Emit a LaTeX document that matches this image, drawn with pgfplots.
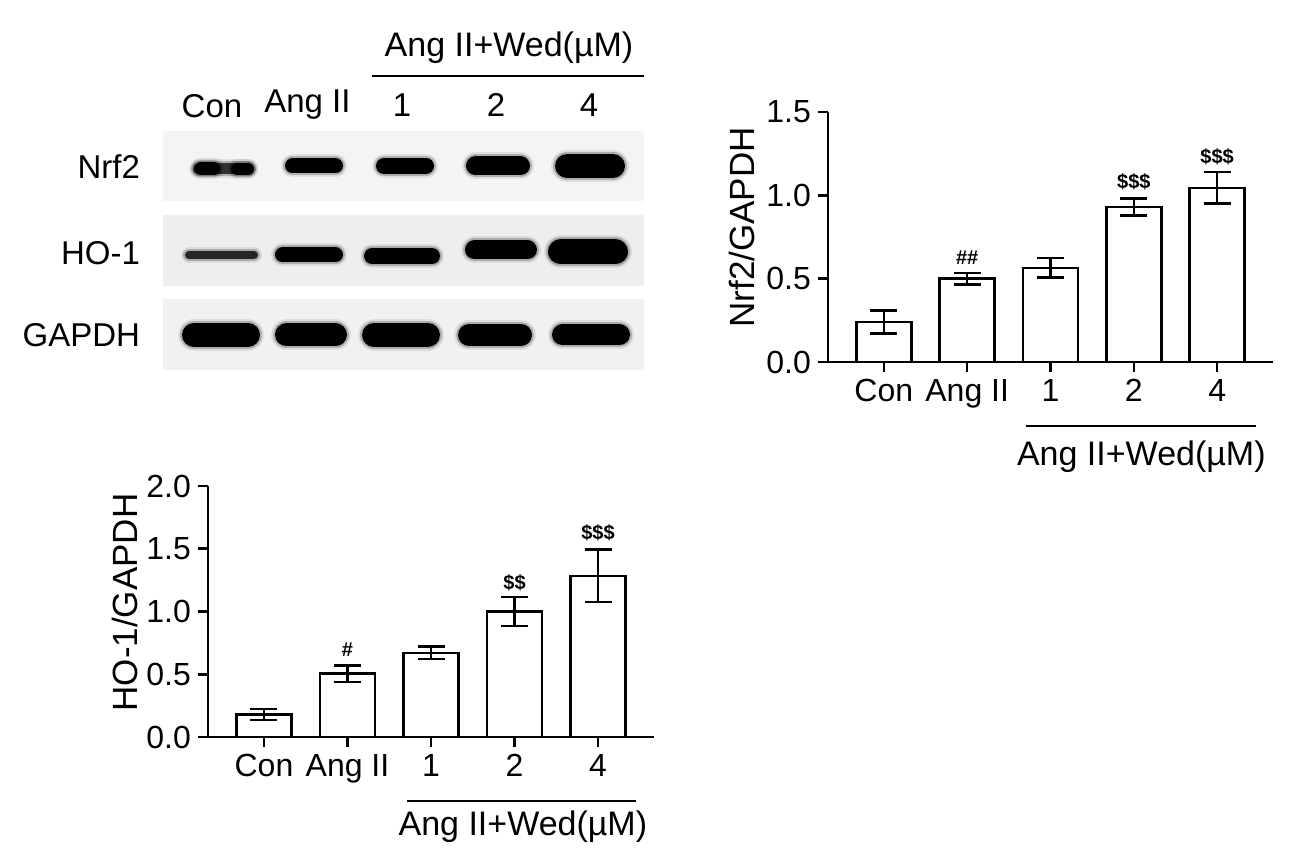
\documentclass[border=0pt]{standalone}
\usepackage{fontspec}
\setmainfont{Liberation Sans}
\usepackage{pgfplots}
\pgfplotsset{compat=1.18}

% one blot band: x from, x to, y, height (px of the 1303x862 canvas), colour
\newcommand{\band}[5]{%
  \addplot[black, opacity=0.08, line width=#4*0.5pt+4pt, line cap=round] coordinates {(#1,#3) (#2,#3)};
  \addplot[black, opacity=0.22, line width=#4*0.5pt+2pt, line cap=round] coordinates {(#1,#3) (#2,#3)};
  \addplot[#5, line width=#4*0.5pt, line cap=round] coordinates {(#1,#3) (#2,#3)};
}

\tikzset{sig/.style={font=\fontsize{10}{12}\selectfont\bfseries}}

\pgfplotsset{
  barchart/.style={
    scale only axis,
    xmin=-0.67, xmax=4.67, ymin=0,
    axis x line*=bottom, axis y line*=left,
    axis line style={line width=1.3pt},
    tick style={line width=1.3pt, black},
    tick align=outside, major tick length=5pt,
    xtick={0,...,4}, xticklabels={Con,Ang II,1,2,4},
    ticklabel style={font=\fontsize{16}{19}\selectfont},
    /pgf/number format/assume math mode=true,
    yticklabel style={/pgf/number format/.cd, fixed, fixed zerofill, precision=1},
    ylabel style={font=\fontsize{17.5}{20}\selectfont, anchor=center},
    ybar, bar width=27.5pt,
    clip=false,
  },
  bars/.style={
    fill=white, draw=black, line width=1.2pt,
    error bars/.cd, y dir=both, y explicit,
    error bar style={line width=1.2pt, black},
    error mark options={rotate=90, mark size=6.75pt, line width=1.2pt, black},
  },
}

\begin{document}
\begin{tikzpicture}
\useasboundingbox (0,0) rectangle (651.5pt,431pt);

% western blot, in canvas pixels
\begin{axis}[
  at={(0pt,0pt)}, anchor=south west,
  scale only axis, width=651.5pt, height=431pt,
  xmin=0, xmax=1303, ymin=0, ymax=862, y dir=reverse,
  hide axis, clip=false]
  \addplot[fill=gray!9, draw=none] coordinates {(163,131) (644,131) (644,201) (163,201)};
  \addplot[fill=gray!13, draw=none] coordinates {(163,215) (644,215) (644,286) (163,286)};
  \addplot[fill=gray!11, draw=none] coordinates {(163,299) (644,299) (644,370) (163,370)};
  % Nrf2
  \band{198.5}{248.5}{169}{11}{black!80}
  \band{201}{214}{169}{13}{black}
  \band{237}{248}{169}{12}{black}
  \band{292.5}{335.5}{166}{15}{black}
  \band{384}{426}{166}{16}{black}
  \band{475.5}{520.5}{166}{19}{black}
  \band{567}{613}{166}{24}{black}
  % HO-1
  \band{189}{254}{255}{8}{black!85}
  \band{282.5}{335.5}{255}{15}{black}
  \band{372}{432}{256}{16}{black}
  \band{474.5}{527.5}{250}{19}{black}
  \band{560.5}{615.5}{252}{25}{black}
  % GAPDH
  \band{194}{248}{335}{24}{black}
  \band{286.5}{335.5}{335}{23}{black}
  \band{374}{428}{335}{24}{black}
  \band{469}{521}{335}{22}{black}
  \band{562.5}{619.5}{335}{21}{black}

  \node[anchor=east, font=\fontsize{16.5}{19}\selectfont] at (axis cs:147,167) {Nrf2};
  \node[anchor=east, font=\fontsize{16.5}{19}\selectfont] at (axis cs:147,253) {HO-1};
  \node[anchor=east, font=\fontsize{16.5}{19}\selectfont] at (axis cs:147,335) {GAPDH};
  \node[anchor=base, font=\fontsize{16.5}{19}\selectfont] at (axis cs:212,118) {Con};
  \node[anchor=base, font=\fontsize{16.5}{19}\selectfont] at (axis cs:307.5,113) {Ang II};
  \node[anchor=base, font=\fontsize{16.5}{19}\selectfont] at (axis cs:402,117) {1};
  \node[anchor=base, font=\fontsize{16.5}{19}\selectfont] at (axis cs:496,117) {2};
  \node[anchor=base, font=\fontsize{16.5}{19}\selectfont] at (axis cs:589,117) {4};
  \draw[line width=1.3pt] (axis cs:372,76) -- (axis cs:644,76);
  \node[anchor=base, font=\fontsize{17}{20}\selectfont] at (axis cs:509,57) {Ang II+Wed(µM)};
\end{axis}

% Nrf2/GAPDH
\begin{axis}[barchart,
  at={(414pt,250pt)}, anchor=south west,
  width=222.5pt, height=125pt,
  ymax=1.5, ytick={0,0.5,1,1.5},
  ylabel={Nrf2/GAPDH},
  ylabel style={at={(axis description cs:-0.193,0.538)}}]
  \addplot[bars] coordinates {
    (0,0.24)  +- (0,0.07)
    (1,0.50)  +- (0,0.035)
    (2,0.565) +- (0,0.058)
    (3,0.93)  +- (0,0.05)
    (4,1.045) +- (0,0.095)
  };
  \node[sig] at (axis cs:1,0.624) {\#\#};
  \node[sig] at (axis cs:3,1.08) {\$\$\$};
  \node[sig] at (axis cs:4,1.23) {\$\$\$};
  \draw[line width=1.3pt] (axis cs:1.71,-0.384) -- (axis cs:4.46,-0.384);
  \node[font=\fontsize{17}{20}\selectfont] at (axis cs:3.09,-0.57) {Ang II+Wed(µM)};
\end{axis}

% HO-1/GAPDH
\begin{axis}[barchart,
  at={(104pt,62.5pt)}, anchor=south west,
  width=223pt, height=125.5pt,
  ymax=2, ytick={0,0.5,1,1.5,2},
  ylabel={HO-1/GAPDH},
  ylabel style={at={(axis description cs:-0.186,0.536)}}]
  \addplot[bars] coordinates {
    (0,0.18)  +- (0,0.045)
    (1,0.505) +- (0,0.065)
    (2,0.67)  +- (0,0.05)
    (3,1.0)   +- (0,0.115)
    (4,1.285) +- (0,0.21)
  };
  \node[sig] at (axis cs:1,0.694) {\#};
  \node[sig] at (axis cs:3,1.229) {\$\$};
  \node[sig] at (axis cs:4,1.628) {\$\$\$};
  \draw[line width=1.3pt] (axis cs:1.71,-0.511) -- (axis cs:4.46,-0.511);
  \node[font=\fontsize{17}{20}\selectfont] at (axis cs:3.1,-0.718) {Ang II+Wed(µM)};
\end{axis}
\end{tikzpicture}
\end{document}
